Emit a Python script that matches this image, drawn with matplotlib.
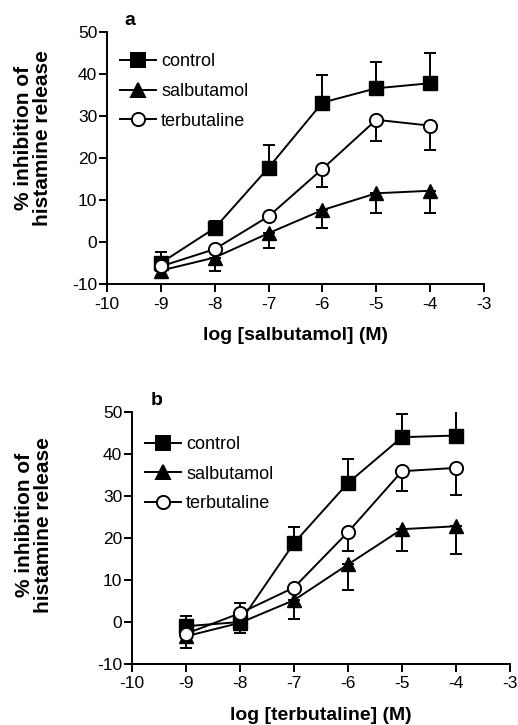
import matplotlib
matplotlib.use("Agg")
import matplotlib.pyplot as plt
from matplotlib.lines import Line2D
import numpy as np

plt.rcParams['font.family'] = ['Liberation Sans', 'DejaVu Sans']
plt.rcParams['axes.unicode_minus'] = False

LogConc = [-9, -8, -7, -6, -5, -4]

# panel a: salbutamol concentration-response
ControlA = [-5.0, 3.3, 17.7, 33.2, 36.6, 37.8]
ControlAErr = [2.7, 1.7, 5.3, 6.6, 6.2, 7.2]
SalbA = [-6.8, -3.7, 2.1, 7.6, 11.6, 12.2]
SalbAErr = [1.5, 3.3, 3.6, 4.3, 4.8, 5.2]
TerbA = [-5.8, -1.7, 6.1, 17.4, 29.1, 27.7]
TerbAErr = [0.0, 0.0, 0.0, 4.2, 5.0, 5.7]

# panel b: terbutaline concentration-response
ControlB = [-1.0, 0.0, 18.8, 33.1, 44.0, 44.4]
ControlBErr = [2.4, 4.5, 3.8, 5.6, 5.5, 6.0]
SalbB = [-3.4, -0.2, 5.2, 13.7, 22.1, 22.8]
SalbBErr = [2.8, 2.4, 4.4, 6.0, 5.3, 6.5]
TerbB = [-2.8, 2.1, 8.2, 21.4, 35.9, 36.7]
TerbBErr = [0.0, 0.0, 0.0, 4.6, 4.8, 6.4]

Labels = ["control", "salbutamol", "terbutaline"]
Markers = ['s', '^', 'o']
Faces = ['black', 'black', 'white']


def DrawPanel(Ax, Ctrl, CtrlErr, Salb, SalbErr, Terb, TerbErr, XLabel, Letter,
              LetterX, YLabelPos, LegendY):
    Common = dict(color='black', lw=1.4, capsize=4, elinewidth=1.4, capthick=1.4)
    Zero = np.zeros(len(LogConc))
    Ax.errorbar(LogConc, Ctrl, yerr=[Zero, CtrlErr], marker='s', ms=9.5,
                mfc='black', mec='black', zorder=3, **Common)
    Ax.errorbar(LogConc, Salb, yerr=[SalbErr, Zero], marker='^', ms=9.5,
                mfc='black', mec='black', zorder=3, **Common)
    Ax.errorbar(LogConc, Terb, yerr=[TerbErr, Zero], marker='o', ms=9.5,
                mfc='white', mec='black', mew=1.4, zorder=4, **Common)

    Ax.set_xlim(-10, -3)
    Ax.set_ylim(-10, 50)
    Ax.set_xticks(range(-10, -2))
    Ax.set_yticks(range(-10, 51, 10))
    for s in ['top', 'right']:
        Ax.spines[s].set_visible(False)
    for s in ['left', 'bottom']:
        Ax.spines[s].set_linewidth(1.4)
    Ax.tick_params(direction='out', length=6, width=1.4, labelsize=12.5, pad=1)
    Ax.tick_params(axis='x', pad=3)
    Ax.set_xlabel(XLabel, fontsize=14, fontweight='bold', labelpad=11)
    Ax.set_ylabel("% inhibition of\nhistamine release", fontsize=15,
                  fontweight='bold', linespacing=1.0)
    Ax.yaxis.set_label_coords(*YLabelPos)
    Ax.text(LetterX, 1.01, Letter, transform=Ax.transAxes, fontsize=14,
            fontweight='bold', ha='left', va='bottom')

    Handles = [Line2D([], [], color='black', lw=1.4, marker=m, ms=9.5, mfc=f,
                      mec='black', mew=1.4) for m, f in zip(Markers, Faces)]
    Ax.legend(Handles, Labels, loc='upper left', bbox_to_anchor=(0.0, LegendY),
              frameon=False, fontsize=13, handlelength=2.0, handletextpad=0.3,
              labelspacing=0.7, borderaxespad=0.3)


Fig = plt.figure(figsize=(5.18, 7.25), dpi=100)
AxA = Fig.add_axes([107 / 518, 1 - 284 / 725, 377 / 518, 252 / 725])
AxB = Fig.add_axes([132 / 518, 1 - 664 / 725, 378 / 518, 252 / 725])

DrawPanel(AxA, ControlA, ControlAErr, SalbA, SalbAErr, TerbA, TerbAErr,
          "log [salbutamol] (M)", "a", 0.047, (-0.145, 0.58), 0.965)
DrawPanel(AxB, ControlB, ControlBErr, SalbB, SalbBErr, TerbB, TerbBErr,
          "log [terbutaline] (M)", "b", 0.05, (-0.21, 0.55), 0.955)

Fig.savefig("out.png", dpi=100)
